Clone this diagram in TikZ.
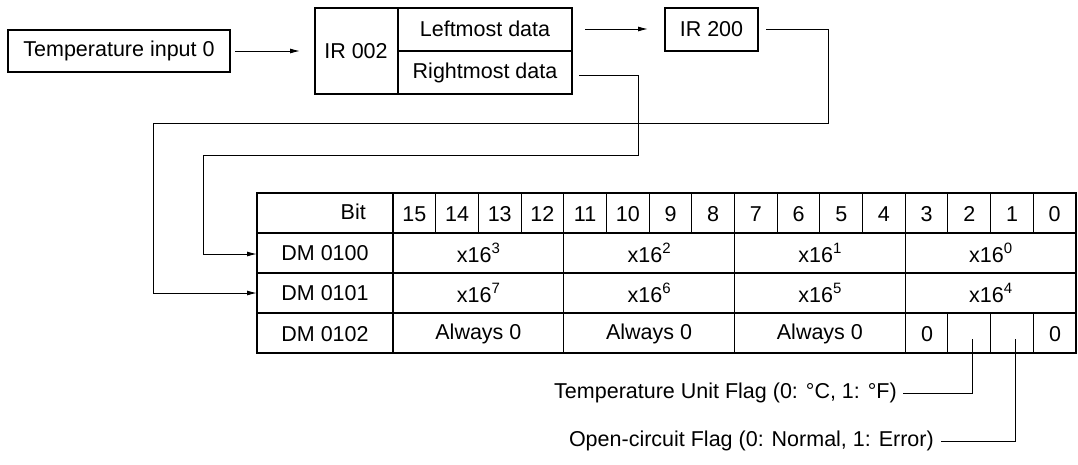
\documentclass[tikz,border=0pt]{standalone}
\usepackage{fontspec}
\setmainfont{Liberation Sans}
\usetikzlibrary{arrows.meta}
\newcommand{\sups}[1]{\raisebox{0.45em}{\fontsize{15}{16}\selectfont #1}}
\begin{document}
\begin{tikzpicture}[x=1pt,y=-1pt,
  every node/.style={font=\fontsize{21.5}{24}\selectfont, inner sep=0pt},
  box/.style={draw, line width=1.2pt},
  conn/.style={line width=1pt},
  arr/.style={conn, -{Latex[length=10pt,width=5pt]}},
  tl/.style={line width=1.3pt}]
\useasboundingbox (0,0) rectangle (1078,464);
% top boxes
\node[box, minimum width=222pt, minimum height=42pt] (temp) at (119,51) {Temperature input 0};
\draw[box] (315,8) rectangle (572,94);
\draw[box] (398,8) -- (398,94);
\draw[box] (398,51) -- (572,51);
\node (ir002) at (356,51) {IR 002};
\node (left) at (485,29) {Leftmost data};
\node (right) at (485,73) {Rightmost data};
\coordinate (irin) at (300,51);
\coordinate (leftout) at (585,29);
\coordinate (leftin) at (648,29);
\coordinate (rightout) at (579,75);
\node[box, minimum width=93pt, minimum height=43pt] (ir200) at (711.5,29.5) {IR 200};
\coordinate (irout) at (766,29);
\coordinate (tout) at (235,51);
\draw[arr] (tout) -- (irin);
\draw[arr] (leftout) -- (leftin);
% table
\def\w{42.6875}
\draw[tl] (257,193) rectangle (1076,353);
\foreach \y in {233,273,313} \draw[tl] (257,\y) -- (1076,\y);
\draw[tl] (393,193) -- (393,353);
\foreach \i in {1,...,15} {
  \pgfmathsetmacro\xx{393+\i*\w}
  \draw[line width=1pt] (\xx,193) -- (\xx,233);
}
\foreach \i in {4,8,12} {
  \pgfmathsetmacro\xx{393+\i*\w}
  \draw[tl] (\xx,193) -- (\xx,353);
}
\foreach \i in {13,14,15} {
  \pgfmathsetmacro\xx{393+\i*\w}
  \draw[line width=1pt] (\xx,313) -- (\xx,353);
}
\node[anchor=east] (bit) at (366,212) {Bit};
\foreach \k in {0,...,15} {
  \pgfmathsetmacro\xx{393+(15-\k+0.5)*\w}
  \node (b\k) at (\xx,214) {\k};
}
\node (dm0) at (325,253) {DM 0100};
\node (dm1) at (325,293) {DM 0101};
\node (dm2) at (325,334) {DM 0102};
\coordinate (t0) at (257,254);
\coordinate (t1) at (257,293);
\node (p3) at (478.4,253) {x16\sups{3}};
\node (p2) at (649.1,253) {x16\sups{2}};
\node (p1) at (819.9,253) {x16\sups{1}};
\node (p0) at (990.6,253) {x16\sups{0}};
\node (p7) at (478.4,293) {x16\sups{7}};
\node (p6) at (649.1,293) {x16\sups{6}};
\node (p5) at (819.9,293) {x16\sups{5}};
\node (p4) at (990.6,293) {x16\sups{4}};
\node (a3) at (478.4,334) {Always 0};
\node (a2) at (649.1,334) {Always 0};
\node (a1) at (819.9,334) {Always 0};
\node (z3) at (927,334) {0};
\node (z0) at (1055,334) {0};
% connectors into table
\draw[arr] (irout) -- (828,29) -- (828,123) -- (153,123) -- (153,293) -- (t1);
\draw[arr] (rightout) -- (638,75) -- (638,155) -- (203,155) -- (203,254) -- (t0);
% flags
\coordinate (f2) at (972,339);
\coordinate (f1) at (1015,339);
\node[anchor=east] (ftu) at (897,393) {Temperature Unit Flag (0: °C, 1: °F)};
\node[anchor=east] (foc) at (934,441) {Open-circuit Flag (0: Normal, 1: Error)};
\draw[conn] (f2) -- (972,393) -- ([xshift=6pt]ftu.east);
\draw[conn] (f1) -- (1015,441) -- ([xshift=7pt]foc.east);
\end{tikzpicture}
\end{document}
